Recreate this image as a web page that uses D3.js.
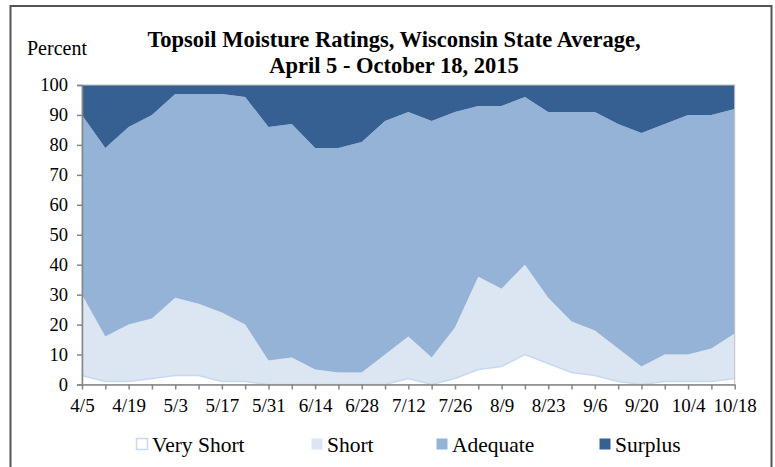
<!DOCTYPE html>
<html>
<head>
<meta charset="utf-8">
<script src="https://cdn.jsdelivr.net/npm/d3@7"></script>
<style>
  body { margin: 0; background: #fff; }
  svg { display: block; font-family: "Liberation Serif", "Times New Roman", serif; }
</style>
</head>
<body>
<div id="chart"></div>
<script>
// weekly dates, April 5 - October 18, 2015
var weeks = ["4/5","4/12","4/19","4/26","5/3","5/10","5/17","5/24","5/31","6/7","6/14","6/21","6/28",
  "7/5","7/12","7/19","7/26","8/2","8/9","8/16","8/23","8/30","9/6","9/13","9/20","9/27","10/4","10/11","10/18"];
var tickLabels = ["4/5","4/19","5/3","5/17","5/31","6/14","6/28","7/12","7/26","8/9","8/23","9/6","9/20","10/4","10/18"];
var seriesNames = ["Very Short", "Short", "Adequate", "Surplus"];

var veryShort = [3,1,1,2,3,3,1,1,0,0,0,0,0,0,2,0,2,5,6,10,7,4,3,1,0,1,1,1,2];
var short     = [27,15,19,20,26,24,23,19,8,9,5,4,4,10,14,9,17,31,26,30,22,17,15,11,6,9,9,11,15];
var adequate  = [60,63,66,68,68,70,73,76,78,78,74,75,77,78,75,79,72,57,61,56,62,70,73,75,78,77,80,78,75];
var surplus   = [10,21,14,10,3,3,3,4,14,13,21,21,19,12,9,12,9,7,7,4,9,9,9,13,16,13,10,10,8];

var width = 775, height = 467;
var margin = {left: 82, right: 40, top: 85, bottom: 83};
var colors = ["#ffffff", "#dce6f2", "#95b3d7", "#376092"];

var svg = d3.select("#chart").append("svg")
  .attr("width", width)
  .attr("height", height);

// outer frame
svg.append("path")
  .attr("d", "M10.5,480 L10.5,6 L771.5,6 L771.5,480")
  .attr("fill", "none")
  .attr("stroke", "#555")
  .attr("stroke-width", 2);

var rows = weeks.map(function(w, i){
  return {week: w, "Very Short": veryShort[i], "Short": short[i], "Adequate": adequate[i], "Surplus": surplus[i]};
});
var stacked = d3.stack().keys(seriesNames)(rows);

var x = d3.scalePoint()
  .domain(weeks)
  .range([margin.left, width - margin.right - 0.3]);
var y = d3.scaleLinear()
  .domain([0, 100])
  .range([height - margin.bottom + 0.5, margin.top]);

var area = d3.area()
  .x(function(d){ return x(d.data.week); })
  .y0(function(d){ return y(d[0]); })
  .y1(function(d){ return y(d[1]); });

var g = svg.append("g");
g.selectAll(".layer")
  .data(stacked).enter().append("path")
    .attr("class", "layer")
    .attr("d", area)
    .attr("fill", function(d, i){ return colors[i]; });

// light outline on the very short series
g.append("path")
  .datum(stacked[0])
  .attr("d", d3.line()
    .x(function(d){ return x(d.data.week); })
    .y(function(d){ return y(d[1]); }))
  .attr("fill", "none")
  .attr("stroke", "#c6d9f1")
  .attr("stroke-width", 1.5);

// plot border
svg.append("rect")
  .attr("x", margin.left)
  .attr("y", margin.top)
  .attr("width", x(weeks[weeks.length - 1]) - margin.left)
  .attr("height", y(0) - margin.top)
  .attr("fill", "none")
  .attr("stroke", "#c0c0c0")
  .attr("stroke-width", 1);

// y axis
var yAxis = svg.append("g")
  .attr("transform", "translate(" + margin.left + ",0)")
  .call(d3.axisLeft(y).tickValues(d3.range(0, 101, 10)).tickSize(5).tickPadding(9));
yAxis.attr("font-family", null).attr("font-size", null);
yAxis.select(".domain").attr("stroke", "#868686").attr("stroke-width", 1.5);
yAxis.selectAll(".tick line").attr("stroke", "#868686").attr("stroke-width", 1.5);
yAxis.selectAll("text").attr("font-size", 18.5).attr("fill", "#000");

// x axis
var xAxis = svg.append("g")
  .attr("transform", "translate(0," + y(0) + ")")
  .call(d3.axisBottom(x).tickSize(5).tickSizeOuter(0).tickPadding(9)
    .tickFormat(function(d){ return tickLabels.indexOf(d) >= 0 ? d : ""; }));
xAxis.attr("font-family", null).attr("font-size", null);
xAxis.select(".domain").attr("stroke", "#868686").attr("stroke-width", 1.5);
xAxis.selectAll(".tick line").attr("stroke", "#868686").attr("stroke-width", 1.5);
xAxis.selectAll("text").attr("font-size", 19).attr("fill", "#000");

// title
svg.append("text")
  .attr("x", 394).attr("y", 47)
  .attr("text-anchor", "middle")
  .attr("font-size", 22.5).attr("font-weight", "bold")
  .text("Topsoil Moisture Ratings, Wisconsin State Average,");
svg.append("text")
  .attr("x", 394).attr("y", 73)
  .attr("text-anchor", "middle")
  .attr("font-size", 22.5).attr("font-weight", "bold")
  .text("April 5 - October 18, 2015");
svg.append("text")
  .attr("x", 27).attr("y", 55)
  .attr("font-size", 20)
  .text("Percent");

// legend
var legendX = [136, 311, 436, 599];
var legend = svg.selectAll(".legend")
  .data(seriesNames).enter().append("g")
  .attr("class", "legend")
  .attr("transform", function(d, i){ return "translate(" + legendX[i] + ",438)"; });
legend.append("rect")
  .attr("x", 0.5).attr("y", 0.5)
  .attr("width", 11).attr("height", 11)
  .attr("fill", function(d, i){ return colors[i]; })
  .attr("stroke", function(d, i){ return i === 0 ? "#c6d9f1" : "none"; })
  .attr("stroke-width", 1.5);
legend.append("text")
  .attr("x", 16).attr("y", 14)
  .attr("font-size", 21.5)
  .text(function(d){ return d; });
</script>
</body>
</html>
